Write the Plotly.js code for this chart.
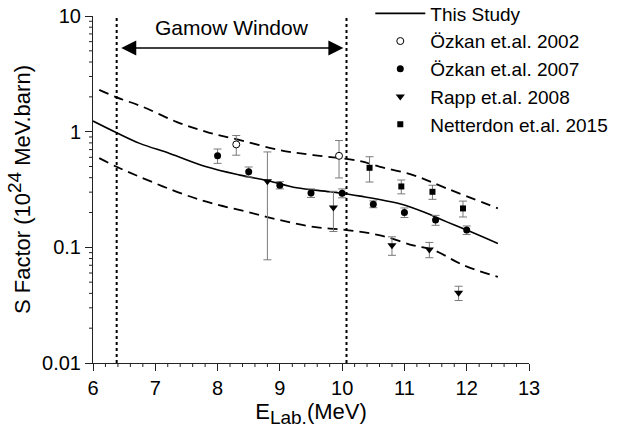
<!DOCTYPE html>
<html>
<head>
<meta charset="utf-8">
<script src="https://cdn.plot.ly/plotly-3.0.1.min.js"></script>
<style>html,body{margin:0;padding:0;background:#fff;}#chart{width:626px;height:428px;}</style>
</head>
<body>
<div id="chart"></div>
<script>
// ---- Data ----
// "This Study" S-factor curve
const studyX = [6.0, 6.38, 6.75, 7.23, 7.82, 8.36, 8.81, 9.27, 9.81, 10.29, 10.94, 11.33, 11.68, 12.0, 12.5];
const studyY = [1.235, 0.978, 0.792, 0.648, 0.497, 0.421, 0.376, 0.327, 0.302, 0.277, 0.237, 0.2, 0.166, 0.141, 0.108];
// Upper and lower dashed bands
const upperX = [6.1, 6.38, 6.8, 7.34, 7.82, 8.36, 9.0, 9.54, 10.26, 10.61, 11.14, 11.68, 12.5];
const upperY = [2.30, 1.98, 1.64, 1.217, 0.997, 0.845, 0.693, 0.627, 0.56, 0.497, 0.421, 0.323, 0.217];
const lowerX = [6.1, 6.38, 6.75, 7.45, 7.93, 8.47, 9.0, 9.54, 10.07, 10.61, 11.14, 11.47, 11.95, 12.5];
const lowerY = [0.59, 0.497, 0.407, 0.288, 0.239, 0.203, 0.172, 0.150, 0.141, 0.127, 0.104, 0.0945, 0.070, 0.0555];

// Özkan et.al. 2002 (open circles)
const ozkan02X = [8.3, 9.95];
const ozkan02Y = [0.776, 0.618];
const ozkan02Err = [0.15, 0.22];
// Özkan et.al. 2007 (filled circles)
const ozkan07X = [8.0, 8.5, 9.0, 9.5, 10.0, 10.5, 11.0, 11.5, 12.0];
const ozkan07Y = [0.62, 0.45, 0.345, 0.295, 0.294, 0.236, 0.200, 0.172, 0.141];
const ozkan07Err = [0.088, 0.045, 0.025, 0.025, 0.026, 0.016, 0.019, 0.017, 0.012];
// Rapp et.al. 2008 (down triangles)
const rappX = [8.8, 9.86, 10.8, 11.4, 11.87];
const rappY = [0.373, 0.221, 0.1043, 0.0958, 0.0404];
const rappErr = [0.295, 0.084, 0.019, 0.0145, 0.0057];
// Netterdon et.al. 2015 (squares)
const netX = [10.44, 10.95, 11.45, 11.94];
const netY = [0.487, 0.336, 0.302, 0.217];
const netErr = [0.12, 0.046, 0.042, 0.034];

// Gamow window limits (MeV)
const gamowWindow = [6.38, 10.07];
const gamowLabel = 'Gamow Window';

// Axis ticks
const xTicks = [6, 7, 8, 9, 10, 11, 12, 13];
const xMinorPerMajor = 5;
const yTickVals = [0.01, 0.1, 1, 10];
const yMinorDigits = [2, 3, 4, 5, 6, 7, 8, 9];

// ---- Styling ----
const FONT = 'Liberation Sans, Arial, Helvetica, sans-serif';
const AXCOL = '#222';
const errStyle = (arr) => ({type: 'data', array: arr, symmetric: true, color: '#7a7a7a', thickness: 1, width: 4});

const traces = [
  {x: studyX, y: studyY, mode: 'lines', name: 'This Study', line: {color: '#000', width: 1.6, shape: 'spline'}},
  {x: upperX, y: upperY, mode: 'lines', showlegend: false, line: {color: '#000', width: 1.8, dash: '10px,6px', shape: 'spline'}},
  {x: lowerX, y: lowerY, mode: 'lines', showlegend: false, line: {color: '#000', width: 1.8, dash: '10px,6px', shape: 'spline'}},
  {x: ozkan02X, y: ozkan02Y, mode: 'markers', name: 'Özkan et.al. 2002', error_y: errStyle(ozkan02Err),
   marker: {symbol: 'circle', size: 7, color: '#fff', line: {color: '#000', width: 1}}},
  {x: ozkan07X, y: ozkan07Y, mode: 'markers', name: 'Özkan et.al. 2007', error_y: errStyle(ozkan07Err),
   marker: {symbol: 'circle', size: 7, color: '#000'}},
  {x: rappX, y: rappY, mode: 'markers', name: 'Rapp et.al. 2008', error_y: errStyle(rappErr),
   marker: {symbol: 'triangle-down', size: 8, color: '#000'}},
  {x: netX, y: netY, mode: 'markers', name: 'Netterdon et.al. 2015', error_y: errStyle(netErr),
   marker: {symbol: 'square', size: 6, color: '#000'}}
];

// Plot-area size in px (for tick-mark lengths in paper units)
const W = 626, H = 428, M = {l: 93, r: 97, t: 16, b: 65};
const plotW = W - M.l - M.r, plotH = H - M.t - M.b;
const xMin = xTicks[0], xMax = xTicks[xTicks.length - 1];
const yLogMin = Math.log10(yTickVals[0]), yLogMax = Math.log10(yTickVals[yTickVals.length - 1]);
const minorLen = 4;

const shapes = [];
// Gamow window dotted lines
gamowWindow.forEach(v => shapes.push({type: 'line', xref: 'x', yref: 'paper', x0: v, x1: v, y0: 0, y1: 1,
  line: {color: '#000', width: 2, dash: 'dot'}}));
// x minor ticks (paper coordinates, outside below the axis)
for (let i = 0; i < xTicks.length - 1; i++) {
  const step = (xTicks[i + 1] - xTicks[i]) / xMinorPerMajor;
  for (let k = 1; k < xMinorPerMajor; k++) {
    const p = (xTicks[i] + k * step - xMin) / (xMax - xMin);
    shapes.push({type: 'line', xref: 'paper', yref: 'paper', x0: p, x1: p, y0: 0, y1: -minorLen / plotH,
      line: {color: AXCOL, width: 1}});
  }
}
// y minor ticks (log axis, paper coordinates, outside left of the axis)
for (let i = 0; i < yTickVals.length - 1; i++) {
  yMinorDigits.forEach(d => {
    const p = (Math.log10(d * yTickVals[i]) - yLogMin) / (yLogMax - yLogMin);
    shapes.push({type: 'line', xref: 'paper', yref: 'paper', x0: 0, x1: -minorLen / plotW, y0: p, y1: p,
      line: {color: AXCOL, width: 1}});
  });
}

const layout = {
  width: W, height: H,
  margin: {l: M.l, r: M.r, t: M.t, b: M.b, autoexpand: false},
  paper_bgcolor: '#fff', plot_bgcolor: '#fff',
  font: {family: FONT, size: 20, color: '#000'},
  showlegend: true,
  legend: {x: 0.636, y: 1.062, xanchor: 'left', yanchor: 'top', bgcolor: 'rgba(0,0,0,0)', itemwidth: 50,
           font: {family: FONT, size: 19, color: '#000'}, tracegroupgap: 0},
  xaxis: {
    range: [xMin, xMax], tickmode: 'linear', tick0: xMin, dtick: xTicks[1] - xTicks[0],
    ticks: 'outside', ticklen: 7, tickcolor: AXCOL, tickwidth: 1,
    showline: true, linecolor: AXCOL, linewidth: 1, showgrid: false, zeroline: false,
    tickfont: {family: FONT, size: 20},
    title: {text: 'E<sub><span style="font-size:19px">Lab.</span></sub>(MeV)', font: {family: FONT, size: 22}, standoff: 8}
  },
  yaxis: {
    type: 'log', range: [yLogMin, yLogMax],
    tickmode: 'linear', dtick: 1,
    ticks: 'outside', ticklen: 7, tickcolor: AXCOL, tickwidth: 1,
    showline: true, linecolor: AXCOL, linewidth: 1, showgrid: false, zeroline: false,
    tickfont: {family: FONT, size: 20},
    title: {text: 'S Factor (10<sup><span style="font-size:19px">24</span></sup> MeV.barn)', font: {family: FONT, size: 22}, standoff: 5}
  },
  shapes: shapes,
  annotations: [
    {x: gamowWindow[1] - 0.05, y: 0.908, xref: 'x', yref: 'paper', ax: gamowWindow[0] + 0.05, ay: 0,
     axref: 'x', ayref: 'pixel', text: '', showarrow: true, arrowhead: 2, arrowside: 'end+start',
     arrowsize: 2, arrowwidth: 1.5, arrowcolor: '#000'},
    {x: (gamowWindow[0] + gamowWindow[1]) / 2, y: 0.968, xref: 'x', yref: 'paper', yanchor: 'middle', xanchor: 'center',
     text: gamowLabel, showarrow: false, font: {family: FONT, size: 21, color: '#000'}}
  ]
};

Plotly.newPlot('chart', traces, layout, {displayModeBar: false, staticPlot: true});
</script>
</body>
</html>
